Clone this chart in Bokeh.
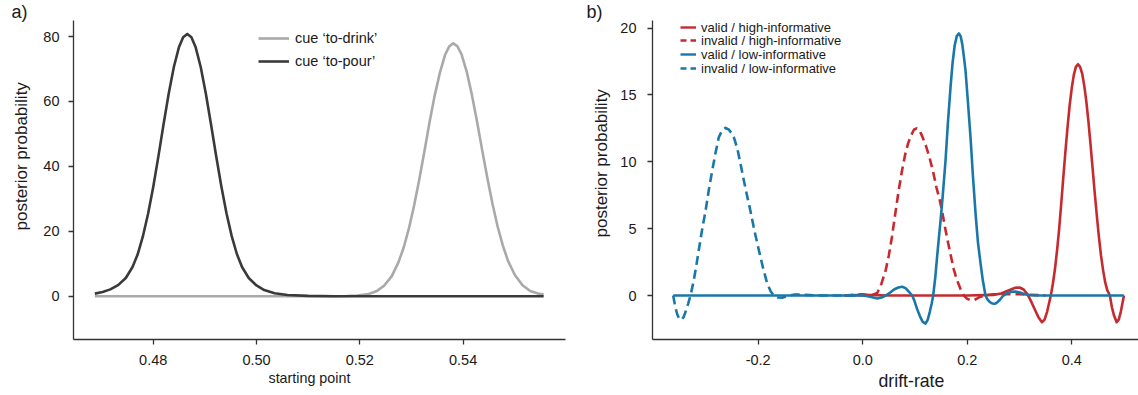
from math import pi
from bokeh.plotting import figure
from bokeh.models import Range1d, FixedTicker, NumeralTickFormatter, Legend, LegendItem, Title
from bokeh.layouts import row
from bokeh.embed import file_html
from bokeh.resources import INLINE

FONT = "Liberation Sans"
NAN = float("nan")

# ---------------- panel a data (starting point) ----------------
drink_x = [0.4687, 0.5150, 0.5175, 0.5195, 0.5217, 0.5232, 0.5247, 0.5262, 0.5275, 0.5285,
           0.5295, 0.5305, 0.5315, 0.5325, 0.5335, 0.5345, 0.5355, 0.5365, 0.5373, 0.5381,
           0.5389, 0.5397, 0.5407, 0.5417, 0.5427, 0.5437, 0.5447, 0.5457, 0.5467, 0.5477,
           0.5487, 0.5500, 0.5515, 0.5530, 0.5545, 0.5556]
drink_y = [0.0, 0.0, 0.05, 0.2, 0.7, 1.5, 3.2, 6.2, 10.5, 15.0,
           20.8, 27.8, 35.8, 44.5, 53.5, 61.8, 68.8, 74.3, 76.9, 77.9,
           77.0, 74.5, 69.2, 62.1, 53.8, 45.0, 36.4, 28.4, 21.4, 15.6,
           10.9, 6.6, 3.4, 1.6, 0.8, 0.5]

pour_x = [0.4687, 0.4702, 0.4717, 0.4732, 0.4747, 0.4760, 0.4770, 0.4780, 0.4790, 0.4800,
          0.4810, 0.4820, 0.4830, 0.4840, 0.4850, 0.4858, 0.4866, 0.4874, 0.4882, 0.4892,
          0.4902, 0.4912, 0.4922, 0.4932, 0.4942, 0.4952, 0.4962, 0.4972, 0.4985, 0.5000,
          0.5015, 0.5035, 0.5060, 0.5100, 0.5150, 0.5556]
pour_y = [0.8, 1.3, 2.1, 3.4, 5.6, 9.0, 12.9, 18.4, 25.3, 33.6,
          43.0, 52.9, 62.4, 70.6, 76.8, 79.8, 80.8, 79.8, 76.8, 70.6,
          62.4, 52.9, 43.1, 33.8, 25.5, 18.5, 13.0, 9.0, 5.6, 3.3,
          1.9, 0.9, 0.35, 0.1, 0.0, 0.0]

a_xticks = [0.48, 0.50, 0.52, 0.54]
a_yticks = [0, 20, 40, 60, 80]
a_labels = ["cue \u2018to-drink\u2019", "cue \u2018to-pour\u2019"]

# ---------------- panel b data (drift-rate) ----------------
vh_x = [-0.035, 0.000, 0.050, 0.200, 0.250, 0.265, 0.280, 0.292, 0.300, 0.308, 0.316, 0.323,
        0.330, 0.336, 0.343, 0.348, 0.353, 0.357, 0.360, 0.364, 0.368, 0.372, 0.376, 0.380,
        0.384, 0.388, 0.392, 0.396, 0.400, 0.404, 0.408, 0.412, 0.416, 0.420, 0.424, 0.428,
        0.432, 0.436, 0.440, 0.444, 0.448, 0.452, 0.456, 0.460, 0.464, 0.468, 0.473, 0.477,
        0.481, 0.486, 0.490, 0.494, 0.497, 0.500]
vh_y = [0.0, 0.05, 0.0, 0.0, 0.05, 0.15, 0.4, 0.58, 0.6, 0.45, 0.05, -0.5,
        -1.1, -1.6, -2.0, -1.8, -1.2, -0.5, 0.0, 0.9, 2.0, 3.4, 5.0, 6.9,
        8.9, 10.8, 12.6, 14.2, 15.5, 16.5, 17.1, 17.3, 17.1, 16.6, 15.7, 14.5,
        13.0, 11.3, 9.5, 7.7, 6.0, 4.4, 3.0, 1.9, 1.0, 0.4, 0.0, -0.9,
        -1.5, -2.0, -1.8, -1.2, -0.6, 0.0]

ih_x = [-0.035, 0.000, 0.015, 0.028, 0.036, 0.044, 0.050, 0.056, 0.063, 0.069, 0.075, 0.081,
        0.087, 0.093, 0.098, 0.103, 0.108, 0.114, 0.121, 0.128, 0.135, 0.141, 0.147, 0.152,
        0.157, 0.162, 0.168, 0.174, 0.180, 0.187, 0.1935, 0.200, 0.207, 0.214, 0.222, 0.232,
        0.250, 0.300, 0.350]
ih_y = [0.0, 0.1, 0.0, 0.2, 0.9, 1.9, 3.0, 4.4, 6.3, 7.9, 9.3, 10.5,
        11.4, 12.0, 12.4, 12.5, 12.4, 11.9, 11.2, 10.3, 9.2, 8.1, 7.2, 6.3,
        5.2, 4.2, 3.1, 2.0, 1.2, 0.5, 0.0, -0.25, -0.35, -0.33, -0.15, 0.0,
        0.1, 0.1, 0.0]

vl_x = [-0.3627, -0.200, 0.000, 0.010, 0.020, 0.028, 0.036, 0.044, 0.052, 0.060, 0.068,
        0.0756, 0.082, 0.088, 0.0947, 0.099, 0.104, 0.109, 0.1145, 0.1202, 0.1245, 0.1285,
        0.132, 0.1349, 0.139, 0.1426, 0.146, 0.149, 0.153, 0.1585, 0.163, 0.1681, 0.172,
        0.176, 0.180, 0.184, 0.1875, 0.1905, 0.1935, 0.1968, 0.2015, 0.2064, 0.211, 0.216,
        0.2205, 0.2255, 0.230, 0.235, 0.239, 0.2435, 0.2485, 0.253, 0.258, 0.263, 0.268,
        0.275, 0.283, 0.292, 0.301, 0.310, 0.320, 0.330, 0.4997]
vl_y = [0.0, 0.0, 0.0, -0.05, -0.15, -0.22, -0.15, 0.0, 0.2, 0.45, 0.6,
        0.65, 0.55, 0.3, 0.0, -0.4, -1.0, -1.5, -1.95, -2.1, -1.8, -1.2,
        -0.6, 0.0, 1.4, 3.0, 4.4, 5.6, 7.4, 10.1, 12.9, 15.6, 17.4,
        18.7, 19.4, 19.6, 19.4, 18.8, 17.9, 16.8, 14.4, 11.8, 8.9, 6.1,
        4.0, 2.4, 1.1, 0.0, -0.3, -0.5, -0.6, -0.62, -0.5, -0.3, -0.05,
        0.15, 0.27, 0.3, 0.22, 0.1, 0.02, 0.0, 0.0]

il_x = [-0.3627, -0.3590, -0.3550, -0.3510, -0.3468, -0.3425, -0.3380, -0.3340, -0.3296,
        -0.3240, -0.3190, -0.3137, -0.3075, -0.3009, -0.2945, -0.2880, -0.2815, -0.2754,
        -0.2690, -0.2626, -0.2560, -0.2500, -0.2467, -0.2400, -0.2339, -0.2275, -0.2210,
        -0.2147, -0.2070, -0.1988, -0.1910, -0.1828, -0.1760, -0.1700, -0.1620, -0.1540,
        -0.1450, -0.1300, -0.1100, -0.0800, 0.0000]
il_y = [0.0, -0.8, -1.4, -1.75, -1.82, -1.6, -1.1, -0.6, 0.0,
        1.0, 2.1, 3.4, 4.9, 6.3, 7.9, 9.35, 10.7, 11.84,
        12.35, 12.54, 12.4, 12.1, 11.84, 11.0, 9.85, 8.6, 7.4,
        6.3, 4.8, 3.4, 2.1, 0.9, 0.3, 0.0, -0.15, -0.17,
        -0.05, 0.08, 0.05, 0.0, 0.0]

b_xticks = [-0.2, 0.0, 0.2, 0.4]
b_yticks = [0, 5, 10, 15, 20]
b_labels = ["valid / high-informative", "invalid / high-informative",
            "valid / low-informative", "invalid / low-informative"]

GRAY_LIGHT = "#a9a9a9"
GRAY_DARK = "#3a3a3a"
RED = "#c62a2f"
BLUE = "#1a78a8"
AXIS = "#333333"
TXT = "#1a1a1a"


def style(p, xticks, xfmt, yticks, ystand):
    p.grid.visible = False
    p.outline_line_color = None
    p.background_fill_color = "white"
    p.border_fill_color = "white"
    for ax in (p.xaxis[0], p.yaxis[0]):
        ax.axis_line_color = AXIS
        ax.axis_line_width = 1.3
        ax.major_tick_line_color = AXIS
        ax.major_tick_line_width = 1.3
        ax.major_tick_out = 5
        ax.major_tick_in = 0
        ax.minor_tick_line_color = None
        ax.major_label_text_font = FONT
        ax.major_label_text_font_size = "14.5px"
        ax.major_label_text_color = TXT
    p.xaxis[0].ticker = FixedTicker(ticks=xticks)
    p.xaxis[0].formatter = NumeralTickFormatter(format=xfmt)
    p.xaxis[0].major_label_standoff = 10
    p.yaxis[0].ticker = FixedTicker(ticks=yticks)
    p.yaxis[0].formatter = NumeralTickFormatter(format="0")
    p.yaxis[0].major_label_standoff = ystand


def title(p, text, place, size, offset=0, standoff=0, valign="bottom"):
    p.add_layout(Title(text=text, align="left", offset=offset, standoff=standoff,
                       vertical_align=valign, text_font=FONT, text_font_size=size,
                       text_font_style="normal", text_color=TXT), place)


# ---------------- panel a ----------------
pa = figure(width=570, height=395, x_range=Range1d(0.46457, 0.55983),
            y_range=Range1d(-13.34, 84.94), output_backend="svg", toolbar_location=None,
            min_border_left=73, min_border_right=5, min_border_top=20, min_border_bottom=56)
style(pa, a_xticks, "0.00", a_yticks, 9)
ra1 = pa.line(drink_x, drink_y, line_color=GRAY_LIGHT, line_width=2.6, line_join="round")
ra2 = pa.line(pour_x, pour_y, line_color=GRAY_DARK, line_width=2.6, line_join="round")
leg_a = Legend(items=[LegendItem(label=a_labels[0], renderers=[ra1]),
                      LegendItem(label=a_labels[1], renderers=[ra2])],
               location=(185, 268), padding=0, margin=0, spacing=3,
               glyph_width=31, glyph_height=20, label_height=20, label_standoff=6,
               label_text_font=FONT, label_text_font_size="14.5px", label_text_color=TXT,
               border_line_color=None, background_fill_alpha=0)
pa.add_layout(leg_a)
title(pa, "a)", "above", "18px", offset=-62, standoff=-2)
title(pa, "posterior probability", "left", "17px", offset=109, standoff=15, valign="top")
title(pa, "starting point", "below", "14.3px", offset=195, standoff=0)

# ---------------- panel b ----------------
pb = figure(width=568, height=395, x_range=Range1d(-0.4023, 0.5278),
            y_range=Range1d(-3.29, 20.57), output_backend="svg", toolbar_location=None,
            min_border_left=82, min_border_right=0, min_border_top=20, min_border_bottom=56)
style(pb, b_xticks, "0.0", b_yticks, 11)
pb.line(vh_x, vh_y, line_color=RED, line_width=2.6, line_join="round")
pb.line(ih_x, ih_y, line_color=RED, line_width=2.6, line_dash="9 5", line_join="round")
pb.line(vl_x, vl_y, line_color=BLUE, line_width=2.6, line_join="round")
pb.line(il_x, il_y, line_color=BLUE, line_width=2.6, line_dash="9 5", line_join="round")
# legend swatch renderers (a single NaN point, so nothing is drawn in the plot)
swatches = [
    pb.line(x=[NAN], y=[NAN], line_color=RED, line_width=2.4),
    pb.line(x=[NAN], y=[NAN], line_color=RED, line_width=2.4, line_dash="6 4"),
    pb.line(x=[NAN], y=[NAN], line_color=BLUE, line_width=2.4),
    pb.line(x=[NAN], y=[NAN], line_color=BLUE, line_width=2.4, line_dash="6 4"),
]
# one single-item legend per row, so the rows sit as tightly as in the reference
row_bottoms = [304, 291, 277, 263]
for label, sw, yb in zip(b_labels, swatches, row_bottoms):
    pb.add_layout(Legend(items=[LegendItem(label=label, renderers=[sw])],
                         location=(28, yb), padding=0, margin=0, spacing=0,
                         glyph_width=16, glyph_height=16, label_height=16, label_standoff=5,
                         label_text_font=FONT, label_text_font_size="13px",
                         label_text_color=TXT, border_line_color=None,
                         background_fill_alpha=0))
title(pb, "b)", "above", "18px", offset=-66, standoff=-2)
title(pb, "posterior probability", "left", "17px", offset=102, standoff=9, valign="top")
title(pb, "drift-rate", "below", "17.7px", offset=226, standoff=2)

layout = row(pa, pb)
open("out.html", "w").write(file_html(layout, INLINE))
